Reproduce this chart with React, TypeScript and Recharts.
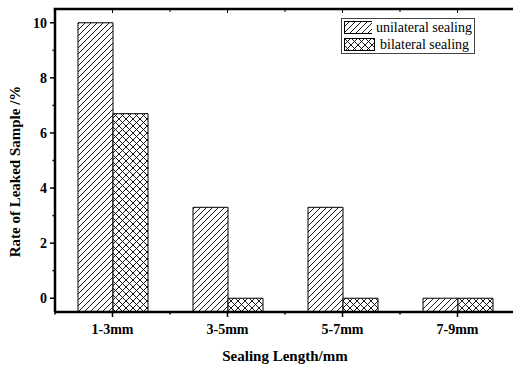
import { BarChart, Bar, XAxis, YAxis } from 'recharts'

const categories = ['1-3mm', '3-5mm', '5-7mm', '7-9mm']
const unilateral = [10, 3.3, 3.3, 0]
const bilateral = [6.7, 0, 0, 0]
const yTicks = [0, 1, 2, 3, 4, 5, 6, 7, 8, 9, 10]
const yMin = -0.5
const yMax = 10.5

const data = categories.map((c, i) => ({
  name: c,
  uni: [yMin, unilateral[i]],
  bi: [yMin, bilateral[i]],
}))

const font = "'Liberation Serif', 'Times New Roman', serif"
const chartW = 520
const chartH = 365
const marginT = 9
const marginR = 5
const yAxisW = 55
const xAxisH = 53

function YTick(props: any) {
  const { x, y, payload } = props
  const major = payload.value % 2 === 0
  return (
    <g>
      <line x1={x - (major ? 5 : 2.5)} x2={x} y1={y} y2={y} stroke="#000" strokeWidth={1.5} />
      {major && (
        <text x={x - 8} y={y} dy="0.36em" textAnchor="end" fontFamily={font} fontWeight={700} fontSize={14} fill="#000">
          {payload.value}
        </text>
      )}
    </g>
  )
}

function BottomTick(props: any) {
  const { x, y, payload } = props
  const half = payload.offset || 57.5
  return (
    <g>
      <line x1={x} x2={x} y1={y} y2={y + 5} stroke="#000" strokeWidth={1.5} />
      <line x1={x - half} x2={x - half} y1={y} y2={y + 2.5} stroke="#000" strokeWidth={1.5} />
      <text x={x} y={y + 17} dy="0.36em" textAnchor="middle" fontFamily={font} fontWeight={700} fontSize={14} fill="#000">
        {payload.value}
      </text>
    </g>
  )
}

// y title plus the top frame of the plot box
function YLabel() {
  const plotH = chartH - marginT - xAxisH
  const cx = 15
  const cy = marginT + plotH / 2 + 11
  const left = yAxisW
  const band = (chartW - marginR - left) / categories.length
  return (
    <g>
      <text
        x={cx}
        y={cy}
        transform={`rotate(-90 ${cx} ${cy})`}
        textAnchor="middle"
        dominantBaseline="central"
        fontFamily={font}
        fontWeight={700}
        fontSize={15}
        fill="#000"
      >
        Rate of Leaked Sample /%
      </text>
      <line x1={left - 1.25} x2={chartW} y1={marginT} y2={marginT} stroke="#000" strokeWidth={2.5} />
      {categories.map((c, i) => (
        <g key={c}>
          <line x1={left + band * (i + 0.5)} x2={left + band * (i + 0.5)} y1={marginT} y2={marginT + 4} stroke="#000" strokeWidth={1} />
          <line x1={left + band * (i + 1)} x2={left + band * (i + 1)} y1={marginT} y2={marginT + 3} stroke="#000" strokeWidth={1} />
        </g>
      ))}
    </g>
  )
}

function LegendBox() {
  const row = (id: string, label: string) => (
    <div style={{ display: 'flex', alignItems: 'center', height: 17 }}>
      <svg width={32} height={13} style={{ display: 'block' }}>
        <rect x={0.5} y={0.5} width={30} height={12} fill={`url(#${id})`} stroke="#000" strokeWidth={1} />
      </svg>
      <span style={{ marginLeft: 4, fontFamily: font, fontSize: 14, color: '#000', lineHeight: '17px', whiteSpace: 'nowrap' }}>
        {label}
      </span>
    </div>
  )
  return (
    <div
      style={{
        position: 'absolute',
        left: 341,
        top: 18,
        border: '1px solid #444',
        padding: '0px 2px',
        width: 134,
        height: 36,
        boxSizing: 'border-box',
        background: '#fff',
      }}
    >
      {row('hatchUni', 'unilateral sealing')}
      {row('hatchBi', 'bilateral sealing')}
    </div>
  )
}

function Patterns() {
  return (
    <svg width={0} height={0} style={{ position: 'absolute' }}>
      <defs>
        <pattern id="hatchUni" patternUnits="userSpaceOnUse" width={6} height={6}>
          <rect width={6} height={6} fill="#fff" />
          <path d="M-1,1 L1,-1 M0,6 L6,0 M5,7 L7,5" stroke="#000" strokeWidth={0.9} />
        </pattern>
        <pattern id="hatchBi" patternUnits="userSpaceOnUse" width={7} height={7}>
          <rect width={7} height={7} fill="#fff" />
          <path d="M-1,1 L1,-1 M0,7 L7,0 M6,8 L8,6 M-1,6 L1,8 M0,0 L7,7 M6,-1 L8,1" stroke="#000" strokeWidth={0.9} />
        </pattern>
      </defs>
    </svg>
  )
}

export default function App() {
  return (
    <div style={{ position: 'absolute', left: 0, top: 0, width: 513, height: chartH, overflow: 'hidden', background: '#fff' }}>
      <Patterns />
      <BarChart
        width={chartW}
        height={chartH}
        data={data}
        margin={{ top: marginT, right: marginR, left: 0, bottom: 0 }}
        barCategoryGap="20%"
        barGap={0}
      >
        <XAxis
          dataKey="name"
          height={xAxisH}
          axisLine={{ stroke: '#000', strokeWidth: 2.5 }}
          tickLine={false}
          tickSize={0}
          tickMargin={0}
          tick={<BottomTick />}
          interval={0}
          label={{
            value: 'Sealing Length/mm',
            position: 'insideBottom',
            offset: 4,
            style: { fontFamily: font, fontWeight: 700, fontSize: 15, fill: '#000' },
          }}
        />
        <YAxis
          type="number"
          width={yAxisW}
          domain={[yMin, yMax]}
          ticks={yTicks}
          interval={0}
          axisLine={{ stroke: '#000', strokeWidth: 2.5 }}
          tickLine={false}
          tickSize={0}
          tickMargin={0}
          tick={<YTick />}
          label={YLabel}
        />
        <Bar
          dataKey="uni"
          name="unilateral sealing"
          fill="url(#hatchUni)"
          stroke="#000"
          strokeWidth={1}
          isAnimationActive={false}
        />
        <Bar
          dataKey="bi"
          name="bilateral sealing"
          fill="url(#hatchBi)"
          stroke="#000"
          strokeWidth={1}
          isAnimationActive={false}
        />
      </BarChart>
      <LegendBox />
    </div>
  )
}
